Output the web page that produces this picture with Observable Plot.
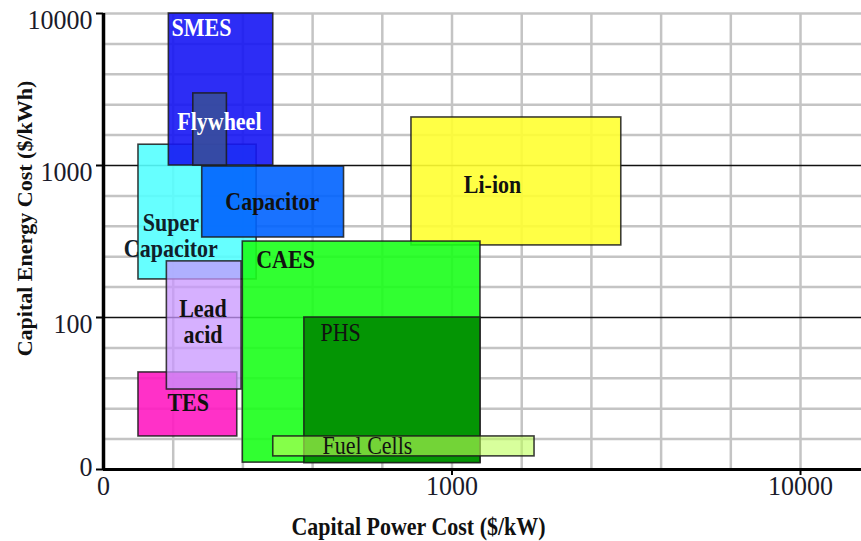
<!DOCTYPE html>
<html><head><meta charset="utf-8">
<script src="https://cdn.jsdelivr.net/npm/d3@7"></script>
<script src="https://cdn.jsdelivr.net/npm/@observablehq/plot@0.6"></script>
<style>body{margin:0;background:#fff;}</style>
</head><body><div id="chart"></div>
<script>
// ---- data ----
const techs      = ["Super Capacitor","SMES","Flywheel","Capacitor","Li-ion","CAES","TES","Lead acid","PHS","Fuel Cells"];
const powerLow   = [126, 154, 181, 192,  765,  251, 126, 152,  377,  307];
const powerHigh  = [275, 307, 226, 490, 3060, 1207, 242, 249, 1207, 1725];
const energyLow  = [178, 1000, 1000, 336, 298, 11.1, 16.5, 33.6, 11, 12.2];
const energyHigh = [1370, 10000, 2980, 985, 2070, 316, 43.5, 234, 100, 16.5];

const labelText = ["Super\nCapacitor","SMES","Flywheel","Capacitor","Li-ion","CAES","TES","Lead\nacid","PHS","Fuel Cells"];
const labelX    = [156, 191, 215, 305, 1307, 333, 175, 193, 479, 572];
const labelY    = [346, 8000, 1948, 579, 750, 241, 27.6, 94, 79.7, 14.3];

const xTicks = [100, 1000, 10000];
const xTickLabels = ["0", "1000", "10000"];
const yTicks = [10, 100, 1000, 10000];
const yTickLabels = ["0", "100", "1000", "10000"];
const xGrid = [158.5, 251.2, 398.1, 631, 1000, 1585, 2512, 3981, 6310, 10000];
const yGridGrey = [15.85, 25.12, 39.81, 63.1, 158.5, 251.2, 398.1, 631, 1585, 2512, 3981, 6310, 10000];
const yGridDark = [100, 1000];

// ---- styles ----
const fills = ["rgb(85,255,255)","rgb(22,22,244)","rgb(57,80,151)","rgb(0,99,255)","rgb(255,255,49)",
               "rgb(27,255,27)","rgb(255,27,194)","rgb(200,150,255)","rgb(0,138,0)","rgb(190,255,90)"];
const opac  = [0.9, 0.9, 0.85, 0.9, 0.9, 0.9, 0.9, 0.75, 0.9, 0.6];
const labelColor  = ["#10202a","#fff","#fff","#111","#111","#111","#111","#111","#111","#111"];
const labelWeight = ["bold","bold","bold","bold","bold","bold","bold","bold","normal","normal"];

const rows = techs.map((t, i) => ({tech: t, x1: powerLow[i], x2: powerHigh[i], y1: energyLow[i], y2: energyHigh[i]}));
const labels = labelText.map((t, i) => ({text: t, x: labelX[i], y: labelY[i], i}));

const xLab = new Map(xTicks.map((d, i) => [d, xTickLabels[i]]));
const yLab = new Map(yTicks.map((d, i) => [d, yTickLabels[i]]));

const rectMarks = rows.map((r, i) => Plot.rect([r], {
  x1: "x1", x2: "x2", y1: "y1", y2: "y2",
  fill: fills[i], fillOpacity: opac[i],
  stroke: "#1c1c1c", strokeWidth: 1.6, strokeOpacity: 0.85
}));

const labelMarks = labels.map(l => Plot.text([l], {
  x: "x", y: "y", text: "text", fill: labelColor[l.i], fontWeight: labelWeight[l.i], fontSize: 22,
  lineHeight: 0.98, textAnchor: "middle", lineAnchor: "middle"
}));

const chart = Plot.plot({
  width: 861, height: 541,
  marginLeft: 103, marginRight: 0, marginTop: 13, marginBottom: 72,
  style: {fontFamily: "'Liberation Serif', 'Times New Roman', serif", background: "#fff", color: "#111"},
  x: {type: "log", domain: [100, 14962], axis: null},
  y: {type: "log", domain: [10, 10000], axis: null},
  marks: [
    Plot.ruleX(xGrid, {stroke: "#c4c4c4", strokeWidth: 2.5}),
    Plot.ruleY(yGridGrey, {stroke: "#c4c4c4", strokeWidth: 2.5}),
    Plot.ruleY(yGridDark, {stroke: "#111", strokeWidth: 1.6}),
    ...rectMarks,
    Plot.ruleX([100], {stroke: "#000", strokeWidth: 3.5}),
    Plot.ruleY([10], {stroke: "#000", strokeWidth: 3}),
    Plot.axisX({ticks: [1000, 10000], tickSize: 6, tickFormat: () => "", label: null, stroke: "#000", strokeWidth: 2}),
    Plot.axisY({ticks: yTicks, tickSize: 7, tickFormat: () => "", label: null, stroke: "#000", strokeWidth: 2}),
    Plot.text(xTicks, {x: d => d, frameAnchor: "bottom", dy: 17, text: d => xLab.get(d),
      fontSize: 26, fill: "#1a1a2a", textAnchor: "middle", lineAnchor: "middle"}),
    Plot.text(yTicks.filter(d => d !== 10), {y: d => d, frameAnchor: "left", dx: -11, dy: 7, text: d => yLab.get(d),
      fontSize: 26, fill: "#1a1a2a", textAnchor: "end", lineAnchor: "middle"}),
    Plot.text(yTicks.filter(d => d === 10), {y: d => d, frameAnchor: "left", dx: -11, dy: -2, text: d => yLab.get(d),
      fontSize: 26, fill: "#1a1a2a", textAnchor: "end", lineAnchor: "middle"}),
    ...labelMarks,
    Plot.text(["Capital Power Cost ($/kW)"], {frameAnchor: "bottom", dx: -64, dy: 57, text: d => d,
      fontSize: 22, fontWeight: "bold", fill: "#111", textAnchor: "middle", lineAnchor: "middle"}),
    Plot.text(["Capital Energy Cost ($/kWh)"], {frameAnchor: "left", dx: -79, dy: -23, rotate: -90, text: d => d,
      fontSize: 22, fontWeight: "bold", fill: "#111", textAnchor: "middle", lineAnchor: "middle"})
  ]
});
document.getElementById("chart").appendChild(chart);

// stretch glyphs vertically like the reference rendering (scale about each text's own centre)
const texts = Array.from(chart.querySelectorAll("text"));
texts.forEach(el => {
  const g = el.parentNode;
  const fs = +(g.getAttribute("font-size") || 0);
  const rotated = (el.getAttribute("transform") || "").includes("rotate");
  if (rotated) return;
  const s = fs === 26 ? 1.05 : 1.18;
  const r = el.getBoundingClientRect();
  const m = g.getScreenCTM().inverse();
  const p = new DOMPoint(r.x + r.width / 2, r.y + r.height / 2).matrixTransform(m);
  const w = document.createElementNS("http://www.w3.org/2000/svg", "g");
  w.setAttribute("transform", `translate(${p.x},${p.y}) scale(1,${s}) translate(${-p.x},${-p.y})`);
  g.insertBefore(w, el);
  w.appendChild(el);
});
</script></body></html>
